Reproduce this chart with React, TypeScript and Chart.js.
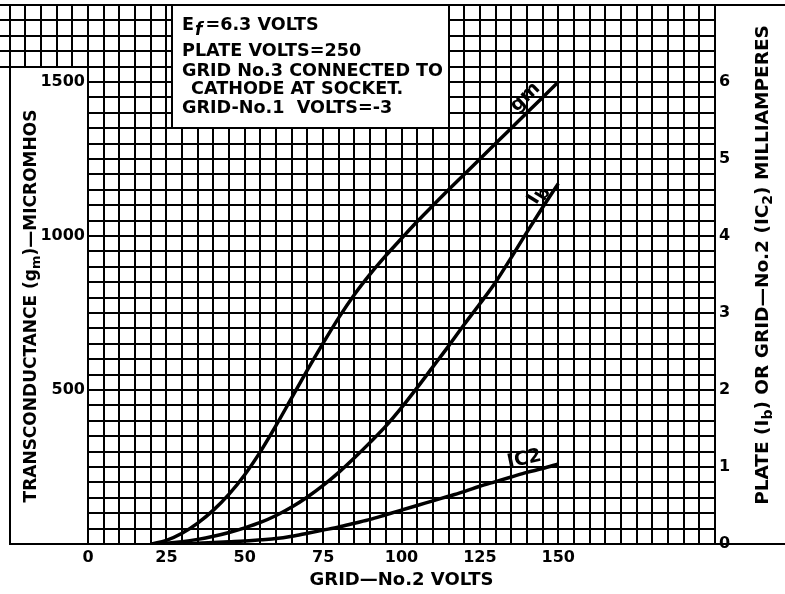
import React, { useEffect, useRef } from 'react';
import { Chart, registerables } from 'chart.js';

Chart.register(...registerables);

// ---- data ----
const volts = [20, 25, 30, 35, 40, 45, 50, 55, 60, 65, 70, 75, 80, 85, 90, 95, 100, 105, 110, 115, 120, 125, 130, 135, 140, 145, 150];
const transconductance = [0, 12, 35, 68, 110, 162, 225, 300, 385, 475, 565, 652, 735, 810, 876, 936, 992, 1047, 1099, 1150, 1200, 1250, 1300, 1350, 1400, 1450, 1500];
const plateCurrent = [0, 0.01, 0.03, 0.06, 0.1, 0.15, 0.21, 0.28, 0.37, 0.48, 0.61, 0.76, 0.93, 1.12, 1.32, 1.53, 1.77, 2.03, 2.3, 2.57, 2.85, 3.12, 3.4, 3.72, 4.05, 4.37, 4.68];
const screenCurrent = [0, 0, 0.005, 0.01, 0.02, 0.03, 0.04, 0.055, 0.07, 0.1, 0.14, 0.18, 0.22, 0.27, 0.32, 0.38, 0.44, 0.5, 0.56, 0.62, 0.68, 0.75, 0.81, 0.87, 0.93, 0.98, 1.04];

const xTickLabels = [0, 25, 50, 75, 100, 125, 150];
const gmTickLabels = [500, 1000, 1500];
const maTickLabels = [0, 1, 2, 3, 4, 5, 6];

const X_MAX = 200;
const X_STEP = 5;
const GM_MAX = 1750;
const GM_STEP = 50;
const MA_MAX = 7;

const FAMILY = '"DejaVu Sans", "Liberation Sans", sans-serif';
const BLACK = '#000';

type Run = { t: string; sub?: boolean; italic?: boolean; scale?: number; gap?: number };

const noteLines: { runs: Run[]; indent: number }[] = [
  { runs: [{ t: 'E', gap: 1 }, { t: 'f', sub: true, italic: true, scale: 0.95, gap: 3 }, { t: '=6.3 VOLTS' }], indent: 0 },
  { runs: [{ t: 'PLATE VOLTS=250' }], indent: 0 },
  { runs: [{ t: 'GRID No.3 CONNECTED TO' }], indent: 0 },
  { runs: [{ t: 'CATHODE AT SOCKET.' }], indent: 9 },
  { runs: [{ t: 'GRID-No.1  VOLTS=-3' }], indent: 0 },
];

const leftTitle: Run[] = [{ t: 'TRANSCONDUCTANCE (g' }, { t: 'm', sub: true }, { t: ')—MICROMHOS' }];
const rightTitle: Run[] = [
  { t: 'PLATE (I' }, { t: 'b', sub: true }, { t: ') OR GRID—No.2 (IC' }, { t: '2', sub: true }, { t: ') MILLIAMPERES' },
];

function runFont(size: number, r: Run) {
  const s = r.sub ? Math.round(size * (r.scale ?? 0.78)) : size;
  return `${r.italic ? 'italic ' : ''}bold ${s}px ${FAMILY}`;
}
function measureRuns(ctx: CanvasRenderingContext2D, runs: Run[], size: number) {
  let w = 0;
  for (const r of runs) {
    ctx.font = runFont(size, r);
    w += ctx.measureText(r.t).width + (r.gap ?? 0);
  }
  return w;
}
// y = cap centre line
function drawRuns(ctx: CanvasRenderingContext2D, runs: Run[], x: number, y: number, size: number, align: 'left' | 'center') {
  const w = measureRuns(ctx, runs, size);
  let cx = align === 'center' ? x - w / 2 : x;
  const base = y + size * 0.365;
  ctx.textAlign = 'left';
  ctx.textBaseline = 'alphabetic';
  for (const r of runs) {
    ctx.font = runFont(size, r);
    ctx.fillText(r.t, cx, base + (r.sub ? size * 0.25 : 0));
    cx += ctx.measureText(r.t).width + (r.gap ?? 0);
  }
}

const zeroPad = (s: any) => {
  s.paddingTop = 0;
  s.paddingBottom = 0;
  s.paddingLeft = 0;
  s.paddingRight = 0;
};

const decor = {
  id: 'decor',
  beforeDatasetsDraw(chart: any) {
    const { ctx, chartArea: a } = chart;
    const xs = chart.scales.x;
    const ys = chart.scales.y;
    const W = chart.width;
    const px = (v: number) => Math.round(xs.getPixelForValue(v));
    const py = (v: number) => Math.round(ys.getPixelForValue(v));
    const line = (x1: number, y1: number, x2: number, y2: number) => {
      ctx.beginPath();
      ctx.moveTo(x1, y1);
      ctx.lineTo(x2, y2);
      ctx.stroke();
    };
    ctx.save();
    ctx.strokeStyle = BLACK;
    ctx.lineWidth = 2;
    // grid continuing above the label column (top-left)
    const boxTop = py(1550);
    for (let v = -X_STEP; v >= -25; v -= X_STEP) line(px(v), a.top - 1, px(v), boxTop);
    for (let v = 1550; v <= GM_MAX; v += GM_STEP) line(0, py(v), a.left, py(v));
    // left border of label column
    const boxLeft = px(-25);
    const y0 = py(0);
    line(boxLeft, boxTop, boxLeft, y0 + 1);
    // outer frame extensions
    line(a.right, a.top, W, a.top);
    line(boxLeft - 1, y0, W, y0);

    // note box
    const nx0 = Math.round(xs.getPixelForValue(26.7));
    const nx1 = px(115);
    const ny1 = py(1350);
    ctx.fillStyle = '#fff';
    ctx.fillRect(nx0, a.top + 1, nx1 - nx0 - 1, ny1 - a.top - 2);
    line(nx0, a.top, nx0, ny1 + 1);

    ctx.fillStyle = BLACK;
    const noteSize = 17.6;
    const lineY = [24, 50, 69.5, 88, 107];
    noteLines.forEach((ln, i) => {
      drawRuns(ctx, ln.runs, nx0 + 10 + ln.indent, lineY[i], noteSize, 'left');
    });
    ctx.restore();
  },
  afterDraw(chart: any) {
    const { ctx } = chart;
    const xs = chart.scales.x;
    const ys = chart.scales.y;
    const y2 = chart.scales.y2;
    ctx.save();
    ctx.fillStyle = BLACK;

    // axis titles (reading bottom to top)
    ctx.save();
    ctx.translate(30, 306);
    ctx.rotate(-Math.PI / 2);
    drawRuns(ctx, leftTitle, 0, 0, 17, 'center');
    ctx.restore();

    ctx.save();
    ctx.translate(761, 265);
    ctx.rotate(-Math.PI / 2);
    drawRuns(ctx, rightTitle, 0, 0, 18.5, 'center');
    ctx.restore();

    // curve labels
    const label = (runs: Run[], xv: number, yPix: number, dx: number, dy: number, deg: number) => {
      ctx.save();
      ctx.translate(xs.getPixelForValue(xv) + dx, yPix + dy);
      ctx.rotate((deg * Math.PI) / 180);
      drawRuns(ctx, runs, 0, 0, 19, 'center');
      ctx.restore();
    };
    const i140 = volts.indexOf(140);
    const i145 = volts.indexOf(145);
    label([{ t: 'gm' }], 140, ys.getPixelForValue(transconductance[i140]), -3, -17, -44);
    label([{ t: 'I' }, { t: 'b', sub: true, scale: 0.9 }], 145, y2.getPixelForValue(plateCurrent[i145]), -7, -14, -58);
    label([{ t: 'IC2' }], 140, y2.getPixelForValue(screenCurrent[i140]), -3, -15, -12);

    ctx.restore();
  },
};

export default function App() {
  const ref = useRef<HTMLCanvasElement>(null);

  useEffect(() => {
    document.body.style.margin = '0';
    const canvas = ref.current;
    if (!canvas) return;

    const tickFont = { family: FAMILY, size: 16, weight: 'bold' as const };
    const line = (values: number[], axis: string) => ({
      data: volts.map((v, i) => ({ x: v, y: values[i] })),
      yAxisID: axis,
      borderColor: BLACK,
      borderWidth: 3.5,
      pointRadius: 0,
      fill: false,
      cubicInterpolationMode: 'monotone' as const,
    });

    const chart = new Chart(canvas, {
      type: 'line',
      data: {
        datasets: [
          { label: 'gm', ...line(transconductance, 'y') },
          { label: 'Ib', ...line(plateCurrent, 'y2') },
          { label: 'IC2', ...line(screenCurrent, 'y2') },
        ],
      },
      options: {
        animation: false,
        responsive: false,
        devicePixelRatio: 1,
        layout: { padding: { top: 5, left: 0, right: 0, bottom: 0 } },
        plugins: {
          legend: { display: false },
          tooltip: { enabled: false },
        },
        scales: {
          x: {
            type: 'linear',
            position: 'bottom',
            min: 0,
            max: X_MAX,
            afterBuildTicks: (s: any) => {
              const t = [];
              for (let v = 0; v <= X_MAX; v += X_STEP) t.push({ value: v });
              s.ticks = t;
            },
            ticks: {
              autoSkip: false,
              maxRotation: 0,
              minRotation: 0,
              padding: 4,
              color: BLACK,
              font: tickFont,
              callback: (v: any) => (xTickLabels.includes(Number(v)) ? String(v) : ''),
            },
            grid: { color: BLACK, lineWidth: 2, drawTicks: false },
            border: { display: true, color: BLACK, width: 2 },
            title: {
              display: true,
              text: 'GRID—No.2 VOLTS',
              color: BLACK,
              font: { family: FAMILY, size: 18, weight: 'bold' },
              padding: { top: 0, bottom: 3 },
            },
            afterFit: (s: any) => {
              s.height = 50;
              zeroPad(s);
            },
          },
          y: {
            type: 'linear',
            position: 'left',
            min: 0,
            max: GM_MAX,
            afterBuildTicks: (s: any) => {
              const t = [];
              for (let v = 0; v <= GM_MAX; v += GM_STEP) t.push({ value: v });
              s.ticks = t;
            },
            ticks: {
              autoSkip: false,
              padding: 3,
              color: BLACK,
              font: tickFont,
              callback: (v: any) => (gmTickLabels.includes(Number(v)) ? String(v) : ''),
            },
            grid: { color: BLACK, lineWidth: 2, drawTicks: false },
            border: { display: true, color: BLACK, width: 2 },
            afterFit: (s: any) => {
              s.width = 88;
              zeroPad(s);
            },
          },
          y2: {
            type: 'linear',
            position: 'right',
            min: 0,
            max: MA_MAX,
            afterBuildTicks: (s: any) => {
              const t = [];
              for (let v = 0; v <= MA_MAX; v += 1) t.push({ value: v });
              s.ticks = t;
            },
            ticks: {
              autoSkip: false,
              padding: 4,
              color: BLACK,
              font: tickFont,
              callback: (v: any) => (maTickLabels.includes(Number(v)) ? String(v) : ''),
            },
            grid: { display: false, drawTicks: false },
            border: { display: true, color: BLACK, width: 2 },
            afterFit: (s: any) => {
              s.width = 70;
              zeroPad(s);
            },
          },
        },
      },
      plugins: [decor],
    } as any);

    return () => chart.destroy();
  }, []);

  return (
    <div style={{ width: 785, height: 594, background: '#fff' }}>
      <canvas ref={ref} width={785} height={594} style={{ display: 'block', width: 785, height: 594 }} />
    </div>
  );
}
